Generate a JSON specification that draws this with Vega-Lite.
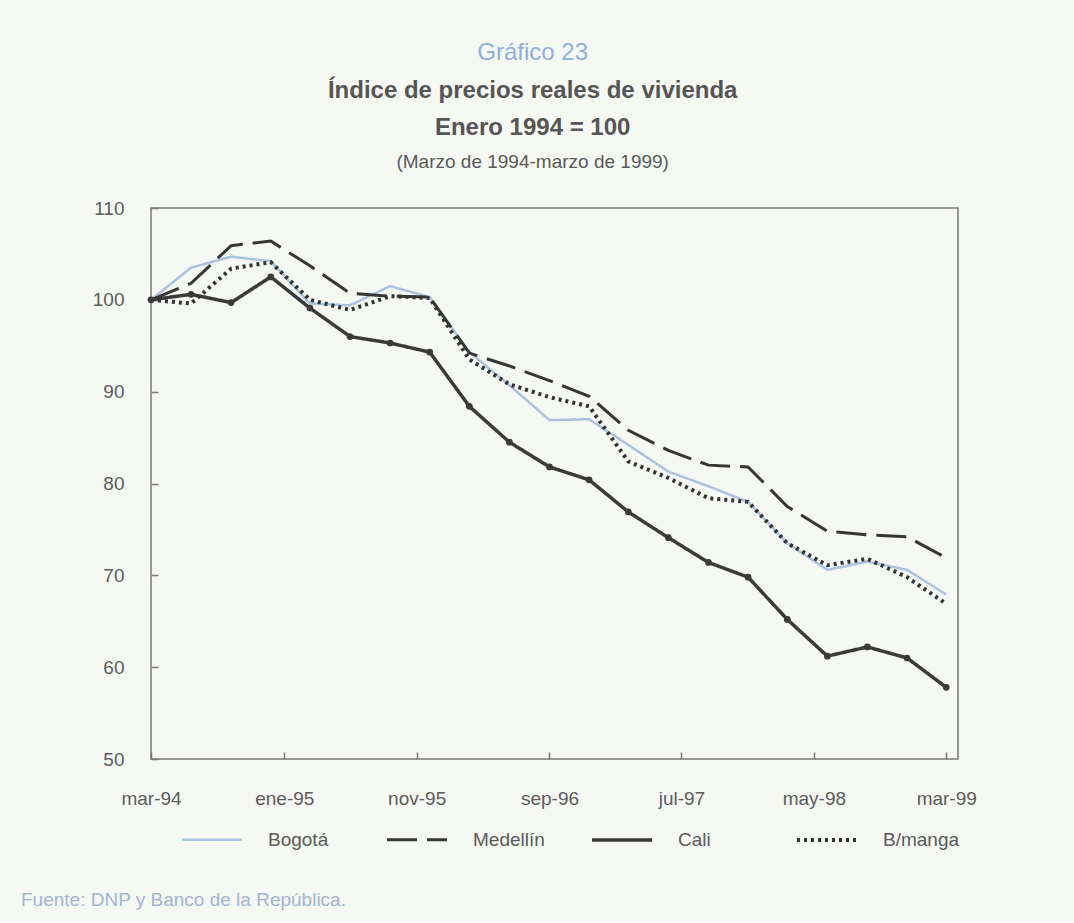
{
  "$schema": "https://vega.github.io/schema/vega-lite/v6.json",
  "background": "#f6f8f3",
  "padding": {"left": 20, "top": 41, "right": 96, "bottom": 10},
  "title": {
    "text": "Gráfico 23",
    "subtitle": ["Índice de precios reales de vivienda", "Enero 1994 = 100"],
    "anchor": "middle",
    "dx": 34,
    "font": "Liberation Sans",
    "fontSize": 24,
    "fontWeight": "normal",
    "color": "#8fb0da",
    "subtitleFont": "Liberation Sans",
    "subtitleFontSize": 24,
    "subtitleFontWeight": "bold",
    "subtitleColor": "#555555",
    "subtitleLineHeight": 37,
    "subtitlePadding": 14,
    "offset": 13
  },
  "datasets": {
    "precios": [
      {"fecha": "1994-03-01", "ciudad": "Bogotá", "indice": 100},
      {"fecha": "1994-06-01", "ciudad": "Bogotá", "indice": 103.5},
      {"fecha": "1994-09-01", "ciudad": "Bogotá", "indice": 104.7},
      {"fecha": "1994-12-01", "ciudad": "Bogotá", "indice": 104.2},
      {"fecha": "1995-03-01", "ciudad": "Bogotá", "indice": 99.6},
      {"fecha": "1995-06-01", "ciudad": "Bogotá", "indice": 99.4},
      {"fecha": "1995-09-01", "ciudad": "Bogotá", "indice": 101.5},
      {"fecha": "1995-12-01", "ciudad": "Bogotá", "indice": 100.3},
      {"fecha": "1996-03-01", "ciudad": "Bogotá", "indice": 94.3},
      {"fecha": "1996-06-01", "ciudad": "Bogotá", "indice": 90.7},
      {"fecha": "1996-09-01", "ciudad": "Bogotá", "indice": 86.9},
      {"fecha": "1996-12-01", "ciudad": "Bogotá", "indice": 87.0},
      {"fecha": "1997-03-01", "ciudad": "Bogotá", "indice": 84.2},
      {"fecha": "1997-06-01", "ciudad": "Bogotá", "indice": 81.3},
      {"fecha": "1997-09-01", "ciudad": "Bogotá", "indice": 79.7},
      {"fecha": "1997-12-01", "ciudad": "Bogotá", "indice": 78.0},
      {"fecha": "1998-03-01", "ciudad": "Bogotá", "indice": 73.5},
      {"fecha": "1998-06-01", "ciudad": "Bogotá", "indice": 70.6},
      {"fecha": "1998-09-01", "ciudad": "Bogotá", "indice": 71.5},
      {"fecha": "1998-12-01", "ciudad": "Bogotá", "indice": 70.6},
      {"fecha": "1999-03-01", "ciudad": "Bogotá", "indice": 67.9},
      {"fecha": "1994-03-01", "ciudad": "Medellín", "indice": 100},
      {"fecha": "1994-06-01", "ciudad": "Medellín", "indice": 101.8},
      {"fecha": "1994-09-01", "ciudad": "Medellín", "indice": 105.9},
      {"fecha": "1994-12-01", "ciudad": "Medellín", "indice": 106.4},
      {"fecha": "1995-03-01", "ciudad": "Medellín", "indice": 103.7},
      {"fecha": "1995-06-01", "ciudad": "Medellín", "indice": 100.7},
      {"fecha": "1995-09-01", "ciudad": "Medellín", "indice": 100.4},
      {"fecha": "1995-12-01", "ciudad": "Medellín", "indice": 100.3},
      {"fecha": "1996-03-01", "ciudad": "Medellín", "indice": 94.2},
      {"fecha": "1996-06-01", "ciudad": "Medellín", "indice": 92.8},
      {"fecha": "1996-09-01", "ciudad": "Medellín", "indice": 91.2},
      {"fecha": "1996-12-01", "ciudad": "Medellín", "indice": 89.5},
      {"fecha": "1997-03-01", "ciudad": "Medellín", "indice": 85.8},
      {"fecha": "1997-06-01", "ciudad": "Medellín", "indice": 83.6},
      {"fecha": "1997-09-01", "ciudad": "Medellín", "indice": 82.0},
      {"fecha": "1997-12-01", "ciudad": "Medellín", "indice": 81.8},
      {"fecha": "1998-03-01", "ciudad": "Medellín", "indice": 77.5},
      {"fecha": "1998-06-01", "ciudad": "Medellín", "indice": 74.8},
      {"fecha": "1998-09-01", "ciudad": "Medellín", "indice": 74.4},
      {"fecha": "1998-12-01", "ciudad": "Medellín", "indice": 74.2},
      {"fecha": "1999-03-01", "ciudad": "Medellín", "indice": 71.9},
      {"fecha": "1994-03-01", "ciudad": "Cali", "indice": 100},
      {"fecha": "1994-06-01", "ciudad": "Cali", "indice": 100.6},
      {"fecha": "1994-09-01", "ciudad": "Cali", "indice": 99.7},
      {"fecha": "1994-12-01", "ciudad": "Cali", "indice": 102.5},
      {"fecha": "1995-03-01", "ciudad": "Cali", "indice": 99.1},
      {"fecha": "1995-06-01", "ciudad": "Cali", "indice": 96.0},
      {"fecha": "1995-09-01", "ciudad": "Cali", "indice": 95.3},
      {"fecha": "1995-12-01", "ciudad": "Cali", "indice": 94.3},
      {"fecha": "1996-03-01", "ciudad": "Cali", "indice": 88.4},
      {"fecha": "1996-06-01", "ciudad": "Cali", "indice": 84.5},
      {"fecha": "1996-09-01", "ciudad": "Cali", "indice": 81.8},
      {"fecha": "1996-12-01", "ciudad": "Cali", "indice": 80.4},
      {"fecha": "1997-03-01", "ciudad": "Cali", "indice": 76.9},
      {"fecha": "1997-06-01", "ciudad": "Cali", "indice": 74.1},
      {"fecha": "1997-09-01", "ciudad": "Cali", "indice": 71.4},
      {"fecha": "1997-12-01", "ciudad": "Cali", "indice": 69.8},
      {"fecha": "1998-03-01", "ciudad": "Cali", "indice": 65.2},
      {"fecha": "1998-06-01", "ciudad": "Cali", "indice": 61.2},
      {"fecha": "1998-09-01", "ciudad": "Cali", "indice": 62.2},
      {"fecha": "1998-12-01", "ciudad": "Cali", "indice": 61.0},
      {"fecha": "1999-03-01", "ciudad": "Cali", "indice": 57.8},
      {"fecha": "1994-03-01", "ciudad": "B/manga", "indice": 100},
      {"fecha": "1994-06-01", "ciudad": "B/manga", "indice": 99.6},
      {"fecha": "1994-09-01", "ciudad": "B/manga", "indice": 103.4},
      {"fecha": "1994-12-01", "ciudad": "B/manga", "indice": 104.1},
      {"fecha": "1995-03-01", "ciudad": "B/manga", "indice": 100.0},
      {"fecha": "1995-06-01", "ciudad": "B/manga", "indice": 98.9},
      {"fecha": "1995-09-01", "ciudad": "B/manga", "indice": 100.4},
      {"fecha": "1995-12-01", "ciudad": "B/manga", "indice": 100.2},
      {"fecha": "1996-03-01", "ciudad": "B/manga", "indice": 93.5},
      {"fecha": "1996-06-01", "ciudad": "B/manga", "indice": 90.8},
      {"fecha": "1996-09-01", "ciudad": "B/manga", "indice": 89.4},
      {"fecha": "1996-12-01", "ciudad": "B/manga", "indice": 88.4},
      {"fecha": "1997-03-01", "ciudad": "B/manga", "indice": 82.4},
      {"fecha": "1997-06-01", "ciudad": "B/manga", "indice": 80.6},
      {"fecha": "1997-09-01", "ciudad": "B/manga", "indice": 78.4},
      {"fecha": "1997-12-01", "ciudad": "B/manga", "indice": 78.0},
      {"fecha": "1998-03-01", "ciudad": "B/manga", "indice": 73.5},
      {"fecha": "1998-06-01", "ciudad": "B/manga", "indice": 71.1},
      {"fecha": "1998-09-01", "ciudad": "B/manga", "indice": 71.8},
      {"fecha": "1998-12-01", "ciudad": "B/manga", "indice": 69.8},
      {"fecha": "1999-03-01", "ciudad": "B/manga", "indice": 66.9}
    ]
  },
  "vconcat": [
    {
      "title": {
        "text": "(Marzo de 1994-marzo de 1999)",
        "font": "Liberation Sans",
        "fontSize": 19,
        "fontWeight": "normal",
        "color": "#5a5a5a",
        "anchor": "middle",
        "dx": 34,
        "offset": 26
      },
      "vconcat": [
        {
          "width": 807,
          "height": 551,
          "data": {"name": "precios"},
          "title": {
            "text": "Fuente: DNP y Banco de la República.",
            "orient": "bottom",
            "anchor": "start",
            "frame": "group",
            "dx": -130,
            "offset": 83,
            "font": "Liberation Sans",
            "fontSize": 19,
            "fontWeight": "normal",
            "color": "#a3b5cf"
          },
          "layer": [
            {
              "mark": {"type": "line", "strokeCap": "butt"},
              "encoding": {
                "x": {
                  "field": "fecha",
                  "type": "temporal",
                  "scale": {"type": "utc", "domain": [{"year": 1994, "month": 3, "date": 1, "utc": true}, {"year": 1999, "month": 3, "date": 28, "utc": true}]},
                  "axis": {
                    "title": null,
                    "values": [
                      {"year": 1994, "month": 3, "date": 1, "utc": true},
                      {"year": 1995, "month": 1, "date": 1, "utc": true},
                      {"year": 1995, "month": 11, "date": 1, "utc": true},
                      {"year": 1996, "month": 9, "date": 1, "utc": true},
                      {"year": 1997, "month": 7, "date": 1, "utc": true},
                      {"year": 1998, "month": 5, "date": 1, "utc": true},
                      {"year": 1999, "month": 3, "date": 1, "utc": true}
                    ],
                    "labelExpr": "['ene','feb','mar','abr','may','jun','jul','ago','sep','oct','nov','dic'][utcmonth(datum.value)] + '-' + utcFormat(datum.value, '%y')",
                    "tickSize": -7,
                    "labelPadding": 37,
                    "labelFlush": false,
                    "labelOverlap": false
                  }
                },
                "y": {
                  "field": "indice",
                  "type": "quantitative",
                  "scale": {"domain": [50, 110], "nice": false, "zero": false},
                  "axis": {"title": null, "values": [50, 60, 70, 80, 90, 100, 110], "tickSize": -7, "labelPadding": 34}
                },
                "color": {
                  "field": "ciudad",
                  "type": "nominal",
                  "scale": {"domain": ["Bogotá", "Medellín", "Cali", "B/manga"], "range": ["#a9c3e0", "#363636", "#3a3a3a", "#333333"]},
                  "legend": {
                    "title": null,
                    "orient": "none",
                    "legendX": 29,
                    "legendY": 600,
                    "direction": "horizontal",
                    "columns": 4,
                    "gridAlign": "all",
                    "symbolType": "stroke",
                    "symbolSize": 3600,
                    "labelFont": "Liberation Sans",
                    "labelFontSize": 19,
                    "labelColor": "#5a5a5a",
                    "labelOffset": 24,
                    "columnPadding": 34
                  }
                },
                "strokeDash": {
                  "field": "ciudad",
                  "type": "nominal",
                  "scale": {"domain": ["Bogotá", "Medellín", "Cali", "B/manga"], "range": [[1, 0], [30, 10], [1, 0], [3, 4]]},
                  "legend": {
                    "title": null,
                    "orient": "none",
                    "legendX": 29,
                    "legendY": 600,
                    "direction": "horizontal",
                    "columns": 4,
                    "gridAlign": "all",
                    "symbolType": "stroke",
                    "symbolSize": 3600,
                    "labelFont": "Liberation Sans",
                    "labelFontSize": 19,
                    "labelColor": "#5a5a5a",
                    "labelOffset": 24,
                    "columnPadding": 34
                  }
                },
                "strokeWidth": {
                  "field": "ciudad",
                  "type": "nominal",
                  "scale": {"domain": ["Bogotá", "Medellín", "Cali", "B/manga"], "range": [2.5, 4, 2, 2]},
                  "legend": {
                    "title": null,
                    "orient": "none",
                    "legendX": 29,
                    "legendY": 600,
                    "direction": "horizontal",
                    "columns": 4,
                    "gridAlign": "all",
                    "symbolType": "stroke",
                    "symbolSize": 3600,
                    "labelFont": "Liberation Sans",
                    "labelFontSize": 19,
                    "labelColor": "#5a5a5a",
                    "labelOffset": 24,
                    "columnPadding": 34
                  }
                }
              }
            },
            {
              "transform": [{"filter": "datum.ciudad === 'Cali'"}],
              "mark": {"type": "point", "filled": true, "size": 45, "color": "#3a3a3a", "opacity": 1},
              "encoding": {
                "x": {"field": "fecha", "type": "temporal"},
                "y": {"field": "indice", "type": "quantitative"}
              }
            }
          ]
        }
      ]
    }
  ],
  "config": {
    "view": {"stroke": "#7a7a7a", "strokeWidth": 1.5},
    "axis": {
      "domain": false,
      "grid": false,
      "labelFont": "Liberation Sans",
      "labelFontSize": 19,
      "labelColor": "#5c5c5c",
      "tickColor": "#7a7a7a",
      "tickWidth": 1.5
    }
  }
}
